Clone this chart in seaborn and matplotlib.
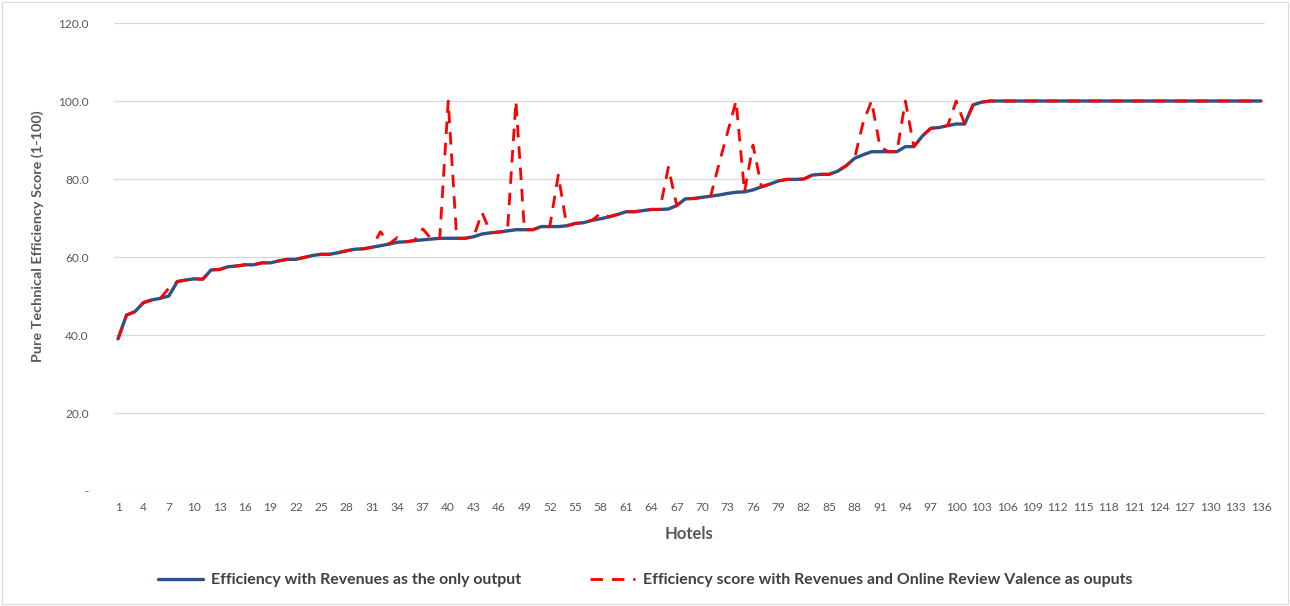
import matplotlib
matplotlib.use("Agg")
import matplotlib.pyplot as plt
import seaborn as sns
import pandas as pd
from matplotlib.patches import Rectangle

hotels = list(range(1, 137))

revenue_only = [
    39.0, 45.1, 46.0, 48.3, 49.0, 49.4, 50.0, 53.7, 54.1, 54.4,
    54.3, 56.7, 56.8, 57.5, 57.7, 58.0, 58.0, 58.5, 58.5, 59.0,
    59.4, 59.4, 59.9, 60.4, 60.7, 60.7, 61.1, 61.6, 62.0, 62.1,
    62.5, 62.9, 63.3, 63.8, 63.9, 64.2, 64.4, 64.6, 64.8, 64.8,
    64.8, 64.8, 65.2, 65.9, 66.2, 66.4, 66.7, 67.0, 67.0, 67.0,
    67.8, 67.8, 67.8, 68.0, 68.6, 68.8, 69.4, 69.8, 70.3, 70.9,
    71.6, 71.6, 71.9, 72.2, 72.2, 72.3, 73.2, 74.9, 75.0, 75.3,
    75.6, 75.9, 76.3, 76.6, 76.7, 77.2, 78.0, 78.7, 79.5, 79.9,
    79.9, 80.0, 81.0, 81.2, 81.2, 82.0, 83.4, 85.3, 86.2, 87.0,
    87.0, 87.0, 87.0, 88.3, 88.3, 91.0, 93.0, 93.2, 93.7, 94.1,
    94.1, 99.0, 99.7, 100.0, 100.0, 100.0, 100.0, 100.0, 100.0, 100.0,
    100.0, 100.0, 100.0, 100.0, 100.0, 100.0, 100.0, 100.0, 100.0, 100.0,
    100.0, 100.0, 100.0, 100.0, 100.0, 100.0, 100.0, 100.0, 100.0, 100.0,
    100.0, 100.0, 100.0, 100.0, 100.0, 100.0,
]

revenue_and_reviews = [
    39.0, 45.1, 46.0, 48.3, 49.0, 49.4, 52.0, 53.7, 54.1, 54.4,
    54.3, 56.7, 56.8, 57.5, 57.7, 58.0, 58.0, 58.5, 58.5, 59.0,
    59.4, 59.4, 59.9, 60.4, 60.7, 60.7, 61.1, 61.6, 62.0, 62.1,
    62.5, 66.5, 63.3, 65.0, 63.9, 64.2, 67.2, 64.6, 64.8, 100.0,
    64.8, 64.8, 65.2, 71.4, 66.2, 66.4, 66.7, 100.0, 67.0, 67.0,
    67.8, 67.8, 81.0, 68.0, 68.6, 68.8, 69.4, 71.2, 70.3, 70.9,
    71.6, 71.6, 71.9, 72.2, 72.2, 83.0, 73.2, 74.9, 75.0, 75.3,
    75.6, 84.0, 92.0, 100.0, 76.7, 88.7, 78.0, 78.7, 79.5, 79.9,
    79.9, 80.0, 81.0, 81.2, 81.2, 82.0, 83.4, 85.3, 94.4, 100.0,
    88.3, 87.0, 87.0, 100.0, 88.3, 91.0, 93.0, 93.2, 93.7, 100.0,
    94.1, 99.0, 99.7, 100.0, 100.0, 100.0, 100.0, 100.0, 100.0, 100.0,
    100.0, 100.0, 100.0, 100.0, 100.0, 100.0, 100.0, 100.0, 100.0, 100.0,
    100.0, 100.0, 100.0, 100.0, 100.0, 100.0, 100.0, 100.0, 100.0, 100.0,
    100.0, 100.0, 100.0, 100.0, 100.0, 100.0,
]

y_ticks = [0, 20, 40, 60, 80, 100, 120]
y_tick_labels = ["-", "20.0", "40.0", "60.0", "80.0", "100.0", "120.0"]
x_ticks = list(range(1, 137, 3))

label_blue = "Efficiency with Revenues as the only output"
label_red = "Efficiency score with Revenues and Online Review Valence as ouputs"

df = pd.DataFrame({"Hotel": hotels, "blue": revenue_only, "red": revenue_and_reviews})

sns.set_theme(style="white")
plt.rcParams["font.family"] = ["Lato", "DejaVu Sans"]

fig = plt.figure(figsize=(12.9, 6.06), dpi=100)
ax = fig.add_axes([113.8 / 1290, 1 - 491 / 606, (1265.2 - 113.8) / 1290, (491 - 23) / 606])

sns.lineplot(data=df, x="Hotel", y="blue", ax=ax, color="#2c5287", linewidth=2.4,
             label=label_blue, zorder=3)
sns.lineplot(data=df, x="Hotel", y="red", ax=ax, color="#ff0000", linewidth=2.0,
             dashes=False, label=label_red, zorder=4)
ax.lines[1].set_dashes((4.5, 3.2))

ax.set_xlim(0.5, 136.5)
ax.set_ylim(0, 120)
ax.set_yticks(y_ticks)
ax.set_yticklabels(y_tick_labels)
ax.set_xticks(x_ticks)
ax.set_xticklabels([str(t) for t in x_ticks])
ax.tick_params(axis="y", length=0, pad=18, labelsize=8.6, labelcolor="#595959")
ax.tick_params(axis="x", length=0, pad=8, labelsize=8.6, labelcolor="#595959")

ax.grid(axis="y", color="#d9d9d9", linewidth=0.9)
ax.grid(axis="x", visible=False)
for s in ax.spines.values():
    s.set_visible(False)

ax.set_xlabel("Hotels", fontsize=12, fontweight="bold", color="#595959")
ax.set_ylabel("Pure Technical Efficiency Score (1-100)", fontsize=10.4, fontweight="bold",
              color="#595959")
ax.xaxis.set_label_coords(0.5, -0.075)
ax.yaxis.set_label_coords(-0.0606, 0.545)

ax.get_legend().remove()
handles, labels = ax.get_legend_handles_labels()
leg = fig.legend(handles, labels, loc="center", bbox_to_anchor=(0.5, 1 - 580 / 606),
                 ncol=2, frameon=False, handlelength=2.85,
                 handletextpad=0.5, columnspacing=4.35, prop={"weight": "bold", "size": 11.4})
for t in leg.get_texts():
    t.set_color("#404040")

fig.patches.append(Rectangle((0.0015, 0.0025), 0.997, 0.995, transform=fig.transFigure,
                             fill=False, edgecolor="#d9d9d9", linewidth=0.8))

fig.savefig("out.png", dpi=100)
